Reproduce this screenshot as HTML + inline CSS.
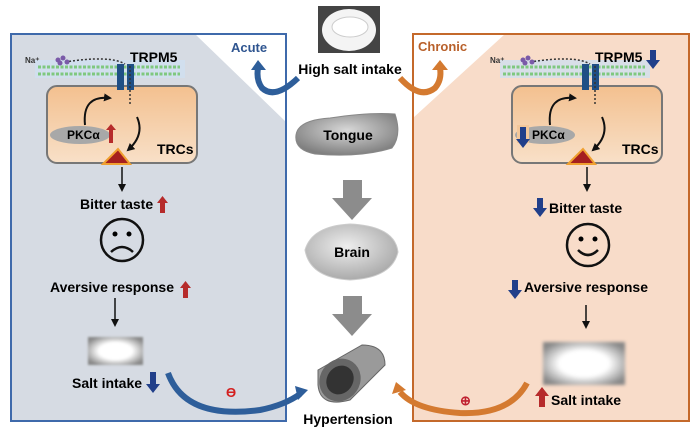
<!DOCTYPE html>
<html><head><meta charset="utf-8"><style>
html,body{margin:0;padding:0;background:#fff}
svg{display:block}
text{font-family:"Liberation Sans",sans-serif;font-weight:bold}
</style></head><body>
<svg width="700" height="435" viewBox="0 0 700 435" xmlns="http://www.w3.org/2000/svg">
<defs>
<radialGradient id="salt" cx="50%" cy="50%" r="60%"><stop offset="0.5" stop-color="#fff"/><stop offset="1" stop-color="#888"/></radialGradient>
<linearGradient id="cell" x1="0" y1="0" x2="0" y2="1"><stop offset="0" stop-color="#f3c08f"/><stop offset="1" stop-color="#f8e0c8"/></linearGradient>
<radialGradient id="gray" cx="45%" cy="40%" r="60%"><stop offset="0" stop-color="#eee"/><stop offset="1" stop-color="#aaa"/></radialGradient>
<radialGradient id="tg" cx="50%" cy="40%" r="60%"><stop offset="0" stop-color="#d8d8d8"/><stop offset="1" stop-color="#808080"/></radialGradient>
<marker id="ah" markerWidth="8" markerHeight="8" refX="6" refY="4" orient="auto" markerUnits="userSpaceOnUse"><path d="M0,0 L8,4 L0,8 z" fill="#111"/></marker>
</defs>

<polygon points="11,34 195,34 286,122 286,421 11,421" fill="#d6dbe3"/>
<rect x="11" y="34" width="275" height="387" fill="none" stroke="#3f6aab" stroke-width="2"/>
<polygon points="505,34 689,34 689,421 413,421 413,118" fill="#f8dcc9"/>
<rect x="413" y="34" width="276" height="387" fill="none" stroke="#c4692b" stroke-width="2"/>

<text x="231" y="52" font-size="13" fill="#2f5590">Acute</text>
<text x="418" y="51" font-size="13" fill="#b8602a">Chronic</text>

<g id="cellL">
<rect x="35" y="60" width="150" height="18" fill="#cfe0f0" opacity="0.8"/>
<g stroke="#7fc87f" stroke-width="3" stroke-dasharray="3 1.5"><line x1="38" y1="67" x2="180" y2="67"/><line x1="38" y1="74" x2="180" y2="74"/></g>
<rect x="47" y="86" width="150" height="77" rx="10" fill="url(#cell)" stroke="#777" stroke-width="2"/>
<rect x="117" y="64" width="7" height="26" fill="#1f4f85"/><rect x="127" y="64" width="7" height="26" fill="#1f4f85"/>
<path d="M65,62 Q110,55 125,64" fill="none" stroke="#333" stroke-width="1.5" stroke-dasharray="2 2"/>
<line x1="130" y1="66" x2="130" y2="105" stroke="#333" stroke-width="1.5" stroke-dasharray="2 2"/>
<circle cx="58" cy="60" r="2.5" fill="#7a5aa8"/><circle cx="63" cy="58" r="2.5" fill="#7a5aa8"/><circle cx="60" cy="63" r="2.5" fill="#7a5aa8"/><circle cx="67" cy="62" r="2.5" fill="#7a5aa8"/>
<text x="25" y="63" font-size="8" font-weight="normal" fill="#333">Na⁺</text>
<text x="130" y="62" font-size="14">TRPM5</text>
<path d="M85,125 Q82,95 110,98" fill="none" stroke="#111" stroke-width="2" marker-end="url(#ah)"/>
<path d="M137,117 Q145,135 128,150" fill="none" stroke="#111" stroke-width="2" marker-end="url(#ah)"/>
<ellipse cx="80" cy="135" rx="30" ry="9" fill="#a8a8a8"/>
<text x="67" y="139" font-size="12">PKCα</text>
<text x="157" y="154" font-size="14">TRCs</text>
<polygon points="103,164 118,149 130,164" fill="#a51f1f" stroke="#f0a030" stroke-width="2"/>
</g>
<path d="M109,130 L109,143 L113,143 L113,130 L116,130 L111,124 L106,130 Z" fill="#b62b2b"/>
<line x1="122" y1="167" x2="122" y2="190" stroke="#111" stroke-width="1.5" marker-end="url(#ah)"/>
<text x="80" y="209" font-size="14">Bitter taste</text>
<path d="M160,203 L160,213 L165,213 L165,203 L168,203 L162.5,196 L157,203 Z" fill="#b62b2b"/>
<circle cx="122" cy="240" r="21" fill="none" stroke="#111" stroke-width="2.5"/>
<circle cx="115" cy="234" r="2.5"/><circle cx="129" cy="234" r="2.5"/>
<path d="M111,252 Q122,242 133,252" fill="none" stroke="#111" stroke-width="2.5"/>
<text x="50" y="292" font-size="14">Aversive response</text>
<path d="M183,288 L183,298 L188,298 L188,288 L191,288 L185.5,281 L180,288 Z" fill="#b62b2b"/>
<line x1="115" y1="298" x2="115" y2="325" stroke="#111" stroke-width="1.5" marker-end="url(#ah)"/>
<rect x="88" y="337" width="55" height="28" fill="url(#salt)" filter="blur(1px)"/>
<text x="72" y="388" font-size="14">Salt intake</text>
<path d="M150,372 L150,384 L146,384 L153,393 L160,384 L156,384 L156,372 Z" fill="#213f8a"/>
<path d="M168,373 Q185,420 260,410 Q285,405 300,394" fill="none" stroke="#2e5e9a" stroke-width="6"/>
<polygon points="295,386 308,390 298,400" fill="#2e5e9a"/>
<text x="226" y="397" font-size="13" fill="#d42020">ϴ</text>

<path d="M298,78 Q275,100 262,88 Q256,80 258,68" fill="none" stroke="#2e5e9a" stroke-width="6"/>
<polygon points="251,70 258,60 266,70" fill="#2e5e9a"/>
<path d="M400,78 Q420,100 435,88 Q442,80 440,68" fill="none" stroke="#d47a30" stroke-width="6"/>
<polygon points="432,70 440,60 448,70" fill="#d47a30"/>

<use href="#cellL" x="465"/>
<rect x="517" y="125" width="12" height="18" fill="#f3c79a"/>
<path d="M520,127 L520,139 L516,139 L523,148 L530,139 L526,139 L526,127 Z" fill="#213f8a"/>
<path d="M650,50 L650,60 L646,60 L653,69 L660,60 L656,60 L656,50 Z" fill="#213f8a"/>
<line x1="587" y1="167" x2="587" y2="190" stroke="#111" stroke-width="1.5" marker-end="url(#ah)"/>
<path d="M537,198 L537,208 L533,208 L540,217 L547,208 L543,208 L543,198 Z" fill="#213f8a"/>
<text x="549" y="213" font-size="14">Bitter taste</text>
<circle cx="588" cy="245" r="21" fill="none" stroke="#111" stroke-width="2.5"/>
<circle cx="581" cy="239" r="2.5"/><circle cx="595" cy="239" r="2.5"/>
<path d="M578,250 Q588,260 598,250" fill="none" stroke="#111" stroke-width="2.5"/>
<path d="M512,280 L512,290 L508,290 L515,299 L522,290 L518,290 L518,280 Z" fill="#213f8a"/>
<text x="524" y="292" font-size="14">Aversive response</text>
<line x1="586" y1="305" x2="586" y2="327" stroke="#111" stroke-width="1.5" marker-end="url(#ah)"/>
<rect x="543" y="342" width="82" height="43" fill="url(#salt)" filter="blur(1.5px)"/>
<path d="M539,407 L539,396 L535,396 L542,387 L549,396 L545,396 L545,407 Z" fill="#b62b2b"/>
<text x="551" y="405" font-size="14">Salt intake</text>
<path d="M527,383 Q510,415 460,413 Q415,410 400,392" fill="none" stroke="#d47a30" stroke-width="6"/>
<polygon points="392,394 396,382 406,390" fill="#d47a30"/>
<text x="460" y="405" font-size="13" fill="#c02030" font-weight="normal">⊕</text>

<rect x="318" y="6" width="62" height="47" fill="#444"/>
<ellipse cx="349" cy="30" rx="27" ry="21" fill="#f4f4f4"/>
<ellipse cx="350" cy="27" rx="18" ry="10" fill="#fff" stroke="#ccc"/>
<text x="350" y="74" font-size="14" text-anchor="middle">High salt intake</text>
<path d="M296,135 Q298,120 330,118 Q370,112 395,114 Q402,135 392,148 Q360,158 315,154 Q294,150 296,135 Z" fill="url(#tg)" stroke="#888"/>
<text x="348" y="140" font-size="14" text-anchor="middle">Tongue</text>
<polygon points="343,180 362,180 362,198 372,198 352,220 332,198 343,198" fill="#8c8c8c"/>
<path d="M305,250 Q312,226 350,224 Q395,226 398,252 Q392,278 350,280 Q310,278 305,250 Z" fill="url(#gray)" stroke="#ccc"/>
<text x="352" y="257" font-size="14" text-anchor="middle">Brain</text>
<polygon points="343,296 362,296 362,314 372,314 352,336 332,314 343,314" fill="#8c8c8c"/>
<path d="M318,370 L362,345 Q385,345 385,365 L350,400 Q320,408 318,385 Z" fill="#9a9a9a" stroke="#666"/>
<ellipse cx="340" cy="380" rx="20" ry="22" transform="rotate(35 340 380)" fill="#666"/>
<ellipse cx="340" cy="380" rx="13" ry="15" transform="rotate(35 340 380)" fill="#333"/>
<text x="348" y="424" font-size="14" text-anchor="middle">Hypertension</text>
</svg>
</body></html>
